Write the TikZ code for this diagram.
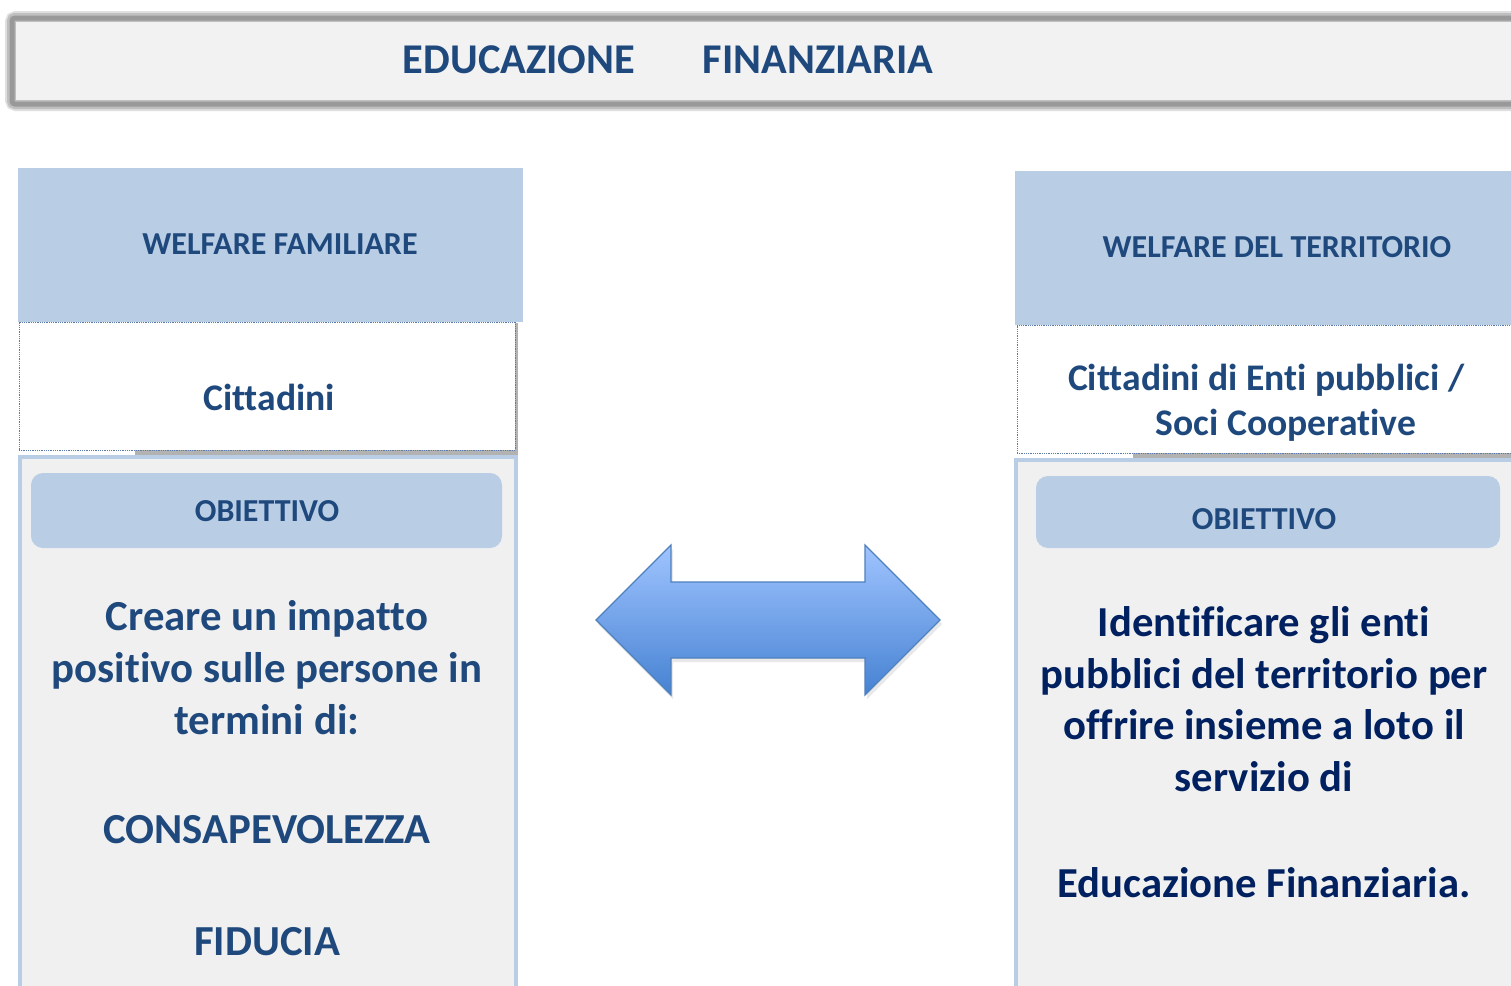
\documentclass[tikz,border=0pt]{standalone}
\usepackage{fontspec}
\setmainfont[RawFeature={-liga;-clig;-calt;-dlig}]{Carlito}
\usetikzlibrary{calc}
\definecolor{hdrblue}{HTML}{B9CDE5}
\definecolor{txtblue}{HTML}{1F497D}
\definecolor{navy}{HTML}{002060}
\definecolor{panel}{HTML}{F0F0F0}
\definecolor{titlefill}{HTML}{F2F2F2}
\definecolor{dotc}{HTML}{5A7AA8}
\definecolor{arrtop}{HTML}{A0C4FF}
\definecolor{arrbot}{HTML}{4682D2}
\definecolor{arredge}{HTML}{4F81BD}
\tikzset{
  hdrbox/.style={fill=hdrblue, draw=none, inner sep=0pt},
  hdrtxt/.style={text=txtblue, font=\bfseries\fontsize{32}{38}\selectfont, inner sep=0pt},
  whitebox/.style={fill=white, draw=dotc, densely dotted, line width=0.8pt, inner sep=0pt},
  panelbox/.style={fill=panel, draw=hdrblue, line width=4pt, inner sep=0pt},
  objbox/.style={fill=hdrblue, draw=none, rounded corners=12pt, inner sep=0pt},
  bigtxt/.style={text=txtblue, font=\bfseries\fontsize{42.8}{52}\selectfont, align=center, inner sep=0pt},
  navytxt/.style={text=navy, font=\bfseries\fontsize{42.7}{51.5}\selectfont, align=center, inner sep=0pt},
  midtxt/.style={text=txtblue, font=\bfseries\fontsize{37.6}{45}\selectfont, align=center, inner sep=0pt},
}
\begin{document}
\begin{tikzpicture}[x=1pt,y=-1pt]
\clip (0,0) rectangle (1511,985);
\fill[white] (0,0) rectangle (1511,985);

% title bar
\draw[gray!25, line width=14pt, rounded corners=4pt] (12,18) rectangle (1540,104);
\draw[gray!50, line width=10pt, rounded corners=3pt] (12,18) rectangle (1540,104);
\draw[gray!80, line width=5pt, rounded corners=3pt] (12,18) rectangle (1540,104);
\fill[titlefill] (16,22) rectangle (1536,100);
\node[text=txtblue, font=\bfseries\fontsize{42.4}{48}\selectfont, inner sep=0pt] (t1) at (519,60) {EDUCAZIONE};
\node[text=txtblue, font=\bfseries\fontsize{42.4}{48}\selectfont, inner sep=0pt] (t2) at (818,60) {FINANZIARIA};

% left column
\node[hdrbox, minimum width=505pt, minimum height=154pt] (lh) at (270.5,245) {};
\node[hdrtxt] (lht) at (280,244) {WELFARE FAMILIARE};
\fill[gray!60] (135,449) rectangle (518,455);
\fill[gray!60] (514,323) rectangle (518,455);
\node[whitebox, minimum width=496pt, minimum height=128pt] (lw) at (267,386) {};
\node[midtxt] (lwt) at (269,397) {Cittadini};
\node[panelbox, minimum width=496pt, minimum height=540pt] (lp) at (268,727) {};
\node[objbox, minimum width=471pt, minimum height=75pt] (lo) at (266.5,510.5) {};
\node[hdrtxt] (lot) at (267,511) {OBIETTIVO};
\node[bigtxt] (l1) at (267,668) {Creare un impatto\\positivo sulle persone in\\termini di:};
\node[bigtxt] (l2) at (267,830) {CONSAPEVOLEZZA};
\node[bigtxt] (l3) at (267,942) {FIDUCIA};

% right column
\node[hdrbox, minimum width=505pt, minimum height=154pt] (rh) at (1267.5,248) {};
\node[hdrtxt] (rht) at (1277,247) {WELFARE DEL TERRITORIO};
\fill[gray!60] (1133,452) rectangle (1520,458);
\node[whitebox, minimum width=500pt, minimum height=128pt] (rw) at (1267,389) {};
\node[midtxt] (rwt) at (1266,403) {Cittadini di Enti pubblici /\\\hspace*{40pt}Soci Cooperative};
\node[panelbox, minimum width=505pt, minimum height=535pt] (rp) at (1268.5,727.5) {};
\node[objbox, minimum width=464pt, minimum height=72pt] (ro) at (1268,512) {};
\node[hdrtxt] (rot) at (1264,519) {OBIETTIVO};
\node[navytxt] (r1) at (1264,699) {Identificare gli enti\\pubblici del territorio per\\offrire insieme a loto il\\servizio di};
\node[navytxt] (r2) at (1264,883) {Educazione Finanziaria.};

% double arrow
\coordinate (aL) at (596,620);
\coordinate (aR) at (940,620);
\fill[gray!30, opacity=0.6] ($(aL)+(2,4)$) -- (673,549) -- (673,586) -- (867,586) -- (867,549) -- ($(aR)+(2,4)$) -- (867,699) -- (867,662) -- (673,662) -- (673,699) -- cycle;
\shade[top color=arrtop, bottom color=arrbot, line join=miter]
  (aL) -- (671,545) -- (671,582) -- (865,582) -- (865,545) -- (aR) -- (865,695) -- (865,658) -- (671,658) -- (671,695) -- cycle;
\draw[arredge, line width=1.2pt, line join=miter]
  (aL) -- (671,545) -- (671,582) -- (865,582) -- (865,545) -- (aR) -- (865,695) -- (865,658) -- (671,658) -- (671,695) -- cycle;
\end{tikzpicture}
\end{document}
